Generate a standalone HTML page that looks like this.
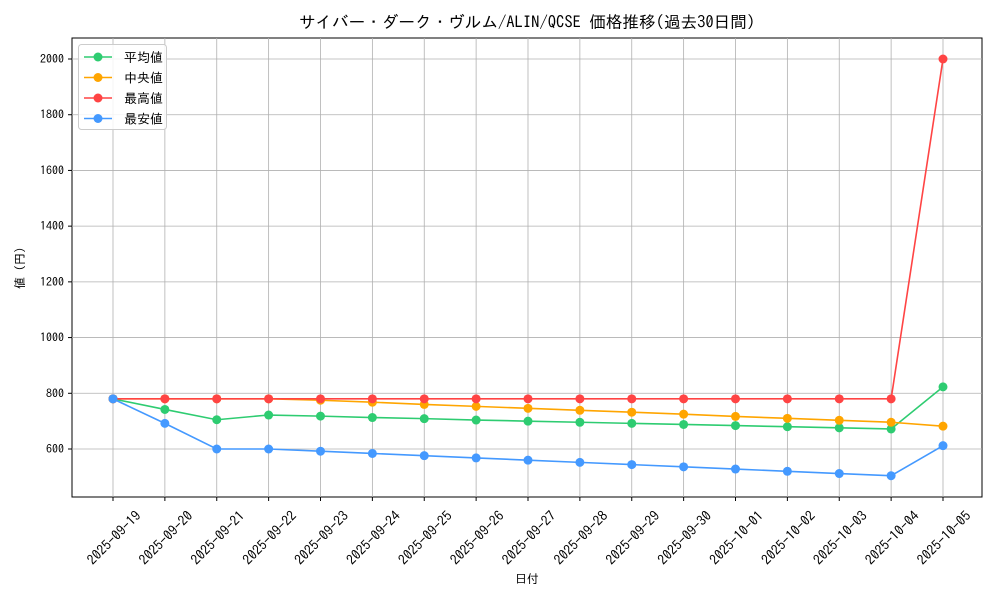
<!DOCTYPE html><html><head><meta charset="utf-8"><style>body{margin:0;background:#fff}svg{display:block;font-family:"IPAGothic","Noto Sans CJK JP",sans-serif}</style></head><body>
<svg id="s" width="1000" height="600" xmlns="http://www.w3.org/2000/svg"></svg>
<script>
const s=document.getElementById('s');let h='';
const X=i=>113+i*51.875, Y=v=>449-(v-600)*0.278571;
const dates=['09-19','09-20','09-21','09-22','09-23','09-24','09-25','09-26','09-27','09-28','09-29','09-30','10-01','10-02','10-03','10-04','10-05'].map(d=>'2025-'+d);
h+='<rect x="72" y="38" width="910" height="459" fill="#fff" stroke="#000" stroke-width="1"/>';
for(let i=0;i<17;i++){const x=X(i);h+=`<line x1="${x}" y1="38" x2="${x}" y2="497" stroke="#b0b0b0" stroke-width="0.8"/><line x1="${x}" y1="497" x2="${x}" y2="501" stroke="#000"/><text transform="translate(${x+22},${510}) rotate(-45)" text-anchor="end" dominant-baseline="hanging" font-size="13.8">${dates[i]}</text>`;}
for(let v=600;v<=2000;v+=200){const y=Y(v);h+=`<line x1="72" y1="${y}" x2="982" y2="${y}" stroke="#b0b0b0" stroke-width="0.8"/><line x1="68" y1="${y}" x2="72" y2="${y}" stroke="#000"/><text x="64" y="${y+4}" text-anchor="end" font-size="12">${v}</text>`;}
const S=[
['#2ecc71',[780,742,705,722,718,713,709,704,700,696,692,688,684,680,676,672,823]],
['#ffa500',[780,780,780,780,775,768,760,753,746,739,732,725,717,710,703,696,682]],
['#ff4444',[780,780,780,780,780,780,780,780,780,780,780,780,780,780,780,780,2000]],
['#4499ff',[780,692,600,600,592,584,576,568,560,552,544,536,528,520,512,504,612]]];
for(const [c,d] of S){h+=`<polyline fill="none" stroke="${c}" stroke-width="1.6" points="${d.map((v,i)=>X(i)+','+Y(v)).join(' ')}"/>`;d.forEach((v,i)=>h+=`<circle cx="${X(i)}" cy="${Y(v)}" r="4.5" fill="${c}"/>`);}
h+='<rect x="78.5" y="44.5" width="88" height="85" rx="3" fill="#fff" fill-opacity="0.85" stroke="#ccc"/>';
[['#2ecc71','平均値'],['#ffa500','中央値'],['#ff4444','最高値'],['#4499ff','最安値']].forEach(([c,t],i)=>{const y=57+i*20.5;h+=`<line x1="84" y1="${y}" x2="112" y2="${y}" stroke="${c}" stroke-width="1.6"/><circle cx="98" cy="${y}" r="4.5" fill="${c}"/><text x="124" y="${y+5}" font-size="13">${t}</text>`;});
h+='<text x="527" y="28" text-anchor="middle" font-size="16.6">サイバー・ダーク・ヴルム/ALIN/QCSE 価格推移(過去30日間)</text>';
h+='<text x="527" y="583" text-anchor="middle" font-size="12">日付</text>';
h+='<text transform="translate(24,268) rotate(-90)" text-anchor="middle" font-size="12">値 (円)</text>';
s.innerHTML=h;
</script></body></html>
